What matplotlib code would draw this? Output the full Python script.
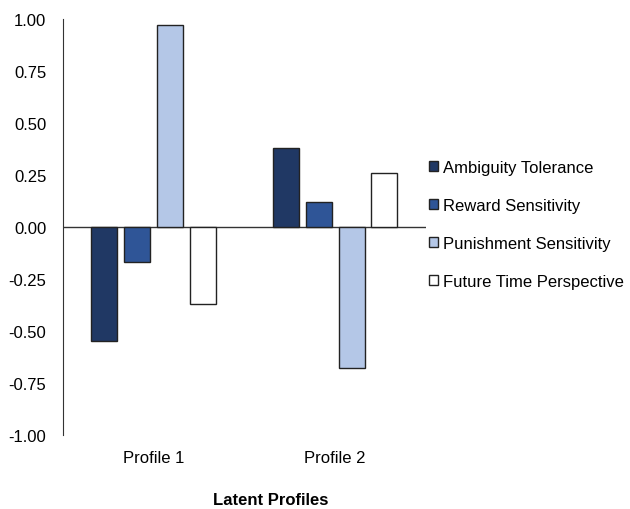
import matplotlib
matplotlib.use("Agg")
import matplotlib.pyplot as plt
import numpy as np

plt.rcParams["font.family"] = ["Liberation Sans", "DejaVu Sans"]

profiles = ["Profile 1", "Profile 2"]
series = ["Ambiguity Tolerance", "Reward Sensitivity",
          "Punishment Sensitivity", "Future Time Perspective"]
values = {
    "Ambiguity Tolerance": [-0.55, 0.38],
    "Reward Sensitivity": [-0.17, 0.12],
    "Punishment Sensitivity": [0.97, -0.68],
    "Future Time Perspective": [-0.37, 0.26],
}
colors = ["#203864", "#2F5597", "#B4C7E7", "#FFFFFF"]
yticks = [-1.0, -0.75, -0.5, -0.25, 0.0, 0.25, 0.5, 0.75, 1.0]

fig = plt.figure(figsize=(6.3, 5.1), dpi=100)
ax = fig.add_axes([0.1, 0.145, 0.576, 0.816])

x = np.arange(len(profiles))
width = 0.143
step = 0.181
for i, name in enumerate(series):
    ax.bar(x + (i - 1.5) * step, values[name], width, color=colors[i],
           edgecolor="#222222", linewidth=1.0, label=name, zorder=3)

ax.axhline(0, color="#333333", linewidth=1.0, zorder=2)
ax.set_xlim(-0.5, 1.5)
ax.set_ylim(-1.0, 1.0)
ax.set_yticks(yticks)
ax.set_yticklabels([f"{v:.2f}" for v in yticks], fontsize=12)
ax.set_xticks(x)
ax.set_xticklabels(profiles, fontsize=12)
ax.tick_params(axis="y", length=0, pad=12)
ax.tick_params(axis="x", length=0, pad=11)
for s in ["top", "right", "bottom"]:
    ax.spines[s].set_visible(False)
ax.spines["left"].set_color("#333333")

fig.text(0.43, 0.003, "Latent Profiles", ha="center", va="bottom",
         fontsize=12, fontweight="bold")

ax.legend(loc="center left", bbox_to_anchor=(0.99, 0.506), frameon=False,
          fontsize=12, handlelength=0.55, handleheight=0.55,
          handletextpad=0.3, labelspacing=1.38, borderaxespad=0)

fig.savefig("out.png", dpi=100)
